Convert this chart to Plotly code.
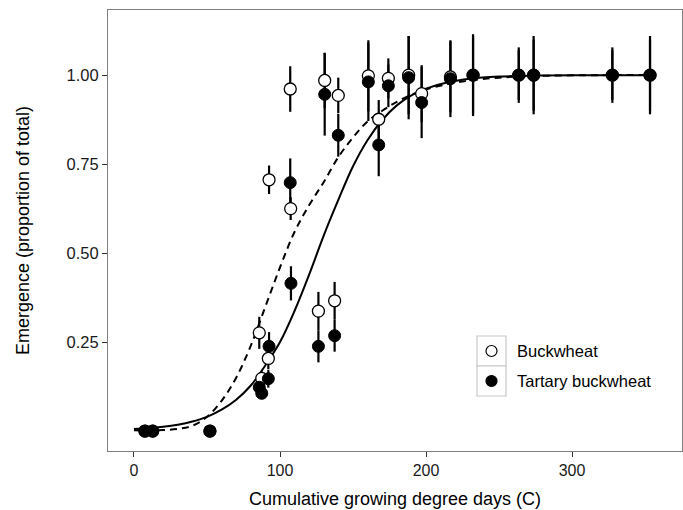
import plotly.graph_objects as go

# ---- data ----
bw_gdd = [7.5, 12.8, 52, 85.8, 87.5, 92.0, 92.5, 107.0, 107.3, 126.3, 130.6, 137.4, 139.9,
          160.5, 167.6, 174.2, 188.1, 197.0, 216.7, 232.2, 263.5, 273.7, 327.6, 353.4]
bw_emerg = [0, 0, 0, 0.276, 0.148, 0.204, 0.706, 0.961, 0.625, 0.337, 0.985, 0.366, 0.943,
            0.998, 0.876, 0.991, 1.0, 0.948, 0.995, 1.0, 1.0, 1.0, 1.0, 1.0]
bw_se = [0, 0, 0, 0.045, 0.02, 0.03, 0.04, 0.064, 0.032, 0.054, 0.078, 0.053, 0.05,
         0.1, 0.054, 0.056, 0.11, 0.08, 0.1, 0.11, 0.07, 0.1, 0.07, 0.1]

tb_gdd = [7.5, 12.8, 52, 85.8, 87.5, 92.0, 92.5, 107.0, 107.5, 126.3, 130.6, 137.4, 139.9,
          160.5, 167.6, 174.2, 188.1, 197.0, 216.7, 232.2, 263.5, 273.7, 327.6, 353.4]
tb_emerg = [0, 0, 0, 0.123, 0.106, 0.147, 0.238, 0.698, 0.415, 0.238, 0.946, 0.268, 0.831,
            0.981, 0.804, 0.97, 0.993, 0.923, 0.99, 1.0, 1.0, 1.0, 1.0, 1.0]
tb_se = [0, 0, 0, 0.02, 0.01, 0.025, 0.04, 0.068, 0.048, 0.045, 0.116, 0.045, 0.06,
         0.11, 0.088, 0.06, 0.117, 0.1, 0.108, 0.115, 0.078, 0.11, 0.078, 0.11]

fit_gdd = [0, 10, 20, 30, 40, 50, 60, 70, 80, 90, 100, 110, 120, 130, 140, 150, 160, 170,
           180, 190, 200, 215, 230, 250, 280, 320, 355]
tb_fit = [0.006, 0.008, 0.012, 0.018, 0.027, 0.04, 0.06, 0.088, 0.128, 0.185, 0.25, 0.338,
          0.44, 0.55, 0.65, 0.744, 0.818, 0.874, 0.915, 0.943, 0.962, 0.98, 0.99, 0.996,
          0.999, 1.0, 1.0]
bw_fit = [0.002, 0.002, 0.003, 0.006, 0.015, 0.04, 0.085, 0.15, 0.24, 0.35, 0.46, 0.56,
          0.635, 0.70, 0.77, 0.825, 0.87, 0.90, 0.925, 0.945, 0.96, 0.975, 0.985, 0.993,
          0.998, 1.0, 1.0]

x_ticks = [0, 100, 200, 300]
y_ticks = [0.25, 0.50, 0.75, 1.00]
y_ticklabels = ["0.25", "0.50", "0.75", "1.00"]
series_names = ["Buckwheat", "Tartary buckwheat"]

FONT = "Liberation Sans, Arial, Helvetica, sans-serif"
W, H = 683, 510
ML, MR, MT, MB = 108, 1, 10, 59
PW, PH = W - ML - MR, H - MT - MB

fig = go.Figure()

# error bars (drawn beneath all points)
for gx, gy, se in [(bw_gdd, bw_emerg, bw_se), (tb_gdd, tb_emerg, tb_se)]:
    fig.add_trace(go.Scatter(
        x=gx, y=gy, mode="markers",
        marker=dict(size=1, color="rgba(0,0,0,0)"),
        error_y=dict(type="data", array=se, visible=True, color="black",
                     thickness=2.2, width=0),
        showlegend=False, hoverinfo="skip"))

# fitted curves
fig.add_trace(go.Scatter(x=fit_gdd, y=bw_fit, mode="lines", line_shape="spline",
                         line=dict(color="black", width=2, dash="7px,5px"),
                         showlegend=False))
fig.add_trace(go.Scatter(x=fit_gdd, y=tb_fit, mode="lines", line_shape="spline",
                         line=dict(color="black", width=2),
                         showlegend=False))

# points
fig.add_trace(go.Scatter(x=bw_gdd, y=bw_emerg, mode="markers", name=series_names[0],
                         marker=dict(size=12, color="white",
                                     line=dict(color="black", width=1.3)),
                         showlegend=False))
fig.add_trace(go.Scatter(x=tb_gdd, y=tb_emerg, mode="markers", name=series_names[1],
                         marker=dict(size=12, color="black",
                                     line=dict(color="black", width=1)),
                         showlegend=False))


def px(xp):
    return (xp - ML) / PW


def py(yp):
    return (H - MB - yp) / PH


# manual legend
shapes = []
kx0, kx1 = 477, 506
rows = [(336, 366), (366, 396)]
for (y0, y1) in rows:
    shapes.append(dict(type="rect", xref="paper", yref="paper",
                       x0=px(kx0), x1=px(kx1), y0=py(y1), y1=py(y0),
                       line=dict(color="#c8c8c8", width=1.2), fillcolor="white"))
fills = ["white", "black"]
for (y0, y1), fc in zip(rows, fills):
    cx, cy, r = (kx0 + kx1) / 2, (y0 + y1) / 2, 5.5
    shapes.append(dict(type="circle", xref="paper", yref="paper",
                       x0=px(cx - r), x1=px(cx + r), y0=py(cy + r), y1=py(cy - r),
                       line=dict(color="black", width=1.2), fillcolor=fc))
annotations = []
for (y0, y1), name in zip(rows, series_names):
    annotations.append(dict(xref="paper", yref="paper", x=px(515), y=py((y0 + y1) / 2),
                            text=name, showarrow=False, xanchor="left", yanchor="middle",
                            font=dict(family=FONT, size=16.5, color="black")))

fig.update_layout(
    width=W, height=H,
    margin=dict(l=ML, r=MR, t=MT, b=MB),
    paper_bgcolor="white", plot_bgcolor="white",
    font=dict(family=FONT, color="black"),
    shapes=shapes, annotations=annotations,
    showlegend=False,
    xaxis=dict(range=[-17.8, 375.3], tickvals=x_ticks, ticktext=[str(v) for v in x_ticks],
               showgrid=False, zeroline=False, showline=True, mirror=True,
               linecolor="#7f7f7f", linewidth=1.2, ticks="outside", ticklen=5,
               tickcolor="#333333", tickwidth=1.2,
               tickfont=dict(family=FONT, size=16, color="#1a1a1a"),
               title=dict(text="Cumulative growing degree days (C)",
                          font=dict(family=FONT, size=18, color="black"), standoff=14)),
    yaxis=dict(range=[-0.056, 1.183], tickvals=y_ticks, ticktext=y_ticklabels,
               showgrid=False, zeroline=False, showline=True, mirror=True,
               linecolor="#7f7f7f", linewidth=1.2, ticks="outside", ticklen=5,
               tickcolor="#333333", tickwidth=1.2,
               tickfont=dict(family=FONT, size=16.5, color="#1a1a1a"),
               title=dict(text="Emergence (proportion of total)",
                          font=dict(family=FONT, size=18, color="black"), standoff=32)),
)

fig.write_html("out.html")
